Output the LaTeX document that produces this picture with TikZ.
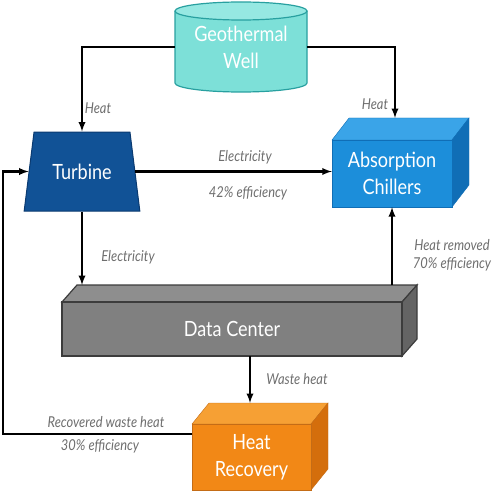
\documentclass[tikz,border=0pt]{standalone}
\usepackage{fontspec}
\setmainfont{Lato}[FakeStretch=0.86]
\usetikzlibrary{shapes,arrows}
\usepackage{xcolor}

\definecolor{wellfill}{RGB}{125,224,216}
\definecolor{welltop}{RGB}{150,232,226}
\definecolor{welledge}{RGB}{40,160,160}
\definecolor{turbfill}{RGB}{17,82,150}
\definecolor{turbedge}{RGB}{10,58,112}
\definecolor{chillfront}{RGB}{28,142,218}
\definecolor{chilltop}{RGB}{58,164,232}
\definecolor{chillside}{RGB}{16,110,182}
\definecolor{dcfront}{RGB}{128,128,128}
\definecolor{dctop}{RGB}{142,142,142}
\definecolor{dcside}{RGB}{100,100,100}
\definecolor{dcedge}{RGB}{60,60,60}
\definecolor{recfront}{RGB}{242,136,22}
\definecolor{rectop}{RGB}{246,160,52}
\definecolor{recside}{RGB}{212,110,12}
\definecolor{recedge}{RGB}{196,108,22}
\definecolor{labelgray}{RGB}{110,110,110}

\begin{document}
\begin{tikzpicture}[x=1pt,y=-1pt,
	flow/.style={-latex, line width=2.2pt},
	lbl/.style={text=labelgray, font=\fontsize{15}{17}\selectfont\itshape},
	box/.style={text=white, align=center, font=\fontsize{21}{27}\selectfont}]
	\useasboundingbox (0,0) rectangle (500,500);

	% geothermal well
	\fill[wellfill] (175,11) -- (175,83) arc[start angle=180, end angle=0, x radius=66, y radius=9] -- (307,11) -- cycle;
	\draw[welledge, line width=1.2pt] (175,11) -- (175,83) arc[start angle=180, end angle=0, x radius=66, y radius=9] -- (307,11);
	\draw[welledge, line width=1.2pt, fill=welltop] (241,11) ellipse [x radius=66, y radius=9];
	\node[box, minimum width=132, minimum height=90] (well) at (241,47) {Geothermal\\Well};

	% turbine
	\node[box, trapezium, trapezium angle=73, trapezium stretches=true, minimum width=116, minimum height=79,
		fill=turbfill, draw=turbedge, line width=1pt] (turbine) at (82,171.5) {Turbine};

	% absorption chillers
	\draw[chillside, fill=chilltop] (332,140) -- (349,118) -- (469,118) -- (452,140) -- cycle;
	\draw[chillside, fill=chillside] (452,140) -- (469,118) -- (469,185) -- (452,207) -- cycle;
	\draw[chillside, fill=chillfront] (332,140) rectangle (452,207);
	\node[box, minimum width=120, minimum height=67] (chiller) at (392,173.5) {Absorption\\Chillers};
	\coordinate (chill back) at (395,118);

	% data center
	\draw[dcedge, fill=dctop, line width=1.2pt] (62,302) -- (77,285) -- (417,285) -- (402,302) -- cycle;
	\draw[dcedge, fill=dcside, line width=1.2pt] (402,302) -- (417,285) -- (417,339) -- (402,356) -- cycle;
	\draw[dcedge, fill=dcfront, line width=1.2pt] (62,302) rectangle (402,356);
	\node[box, minimum width=340, minimum height=54] (datacenter) at (232,329) {Data Center};
	\coordinate (dc back) at (77,285);

	% heat recovery
	\draw[recedge, fill=rectop] (192,424) -- (209,403) -- (328,403) -- (311,424) -- cycle;
	\draw[recedge, fill=recside] (311,424) -- (328,403) -- (328,469) -- (311,490) -- cycle;
	\draw[recedge, fill=recfront] (192,424) rectangle (311,490);
	\node[box, minimum width=119, minimum height=66] (recovery) at (251.5,457) {Heat\\Recovery};
	\coordinate (rec back) at (250,403);
	\coordinate (rec out) at (192,434);

	% flows
	\draw[flow] (well.west) -| (turbine.north);
	\draw[flow] (well.east) -| (chill back);
	\draw[flow] (turbine.east) -- (turbine.east -| chiller.west);
	\draw[flow] (turbine.south) -- (turbine.south |- dc back);
	\draw[flow] (chiller.south |- dc back) -- (chiller.south);
	\draw[flow] (rec back |- datacenter.south) -- (rec back);
	\draw[flow] (rec out) -- ++(-189,0) |- (turbine.west);

	% labels
	\node[lbl] (heat left) at (98,108) {Heat};
	\node[lbl] (heat right) at (375,104) {Heat};
	\node[lbl] (elec top) at (245,157) {Electricity};
	\node[lbl] (eff top) at (248,193) {42\% efficiency};
	\node[lbl] (elec low) at (128,257) {Electricity};
	\node[lbl] (removed) at (452,245) {Heat removed};
	\node[lbl] (eff right) at (452,264) {70\% efficiency};
	\node[lbl] (waste) at (297,379) {Waste heat};
	\node[lbl] (recovered) at (106,422) {Recovered waste heat};
	\node[lbl] (eff low) at (100,446) {30\% efficiency};
\end{tikzpicture}
\end{document}
